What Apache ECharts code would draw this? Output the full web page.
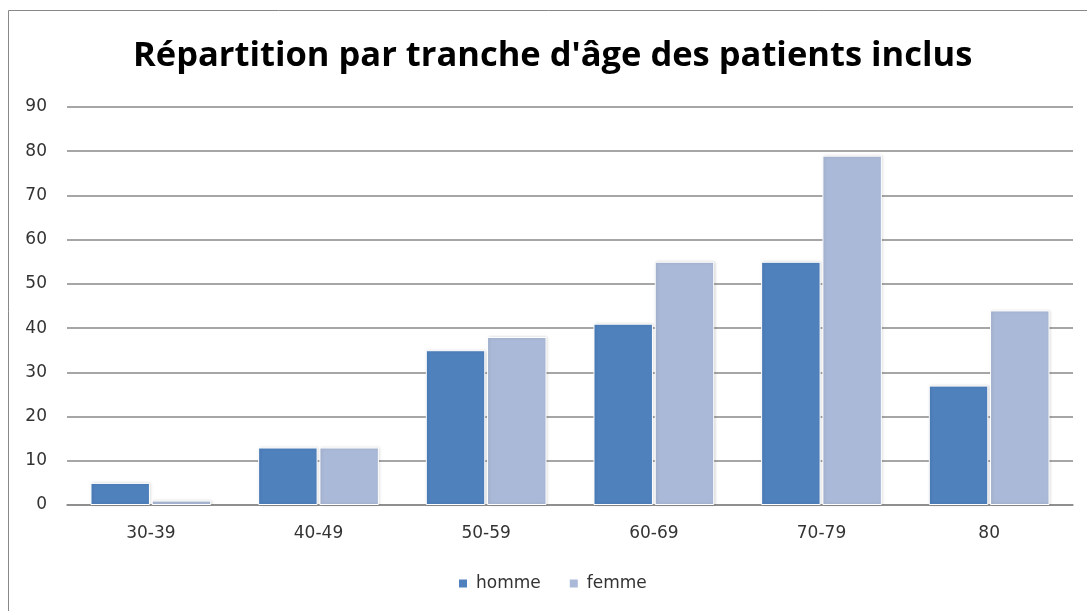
<!DOCTYPE html>
<html>
<head>
<meta charset="utf-8">
<script src="https://cdn.jsdelivr.net/npm/echarts@6/dist/echarts.min.js"></script>
<style>
    html, body { margin: 0; padding: 0; background: #fff; }
    #chart { width: 1087px; height: 611px; }
</style>
</head>
<body>
<div id="chart"></div>
<script>
// données du graphique
var categories = ['30-39', '40-49', '50-59', '60-69', '70-79', '80'];
var hommeValues = [5, 13, 35, 41, 55, 27];
var femmeValues = [1, 13, 38, 55, 79, 44];
var seriesNames = ['homme', 'femme'];

var myChart = echarts.init(document.getElementById('chart'));

var titleFont = '"Open Sans", sans-serif';
var labelFont = '"DejaVu Sans", sans-serif';

var option = {
    animation: false,
    title: {
        text: "Répartition par tranche d'âge des patients inclus",
        left: 128,
        top: 34,
        textStyle: {
            fontFamily: titleFont,
            fontWeight: 'bold',
            fontSize: 34.5,
            color: '#000'
        }
    },
    // cadre gris du graphique (bords droit et bas hors image)
    graphic: [{
        type: 'rect',
        shape: { x: 8.5, y: 10.5, width: 1200, height: 800 },
        style: { fill: 'none', stroke: '#888', lineWidth: 1 },
        silent: true
    }],
    legend: {
        data: seriesNames,
        bottom: 14,
        left: 452,
        itemWidth: 10,
        itemHeight: 10,
        itemGap: 27,
        icon: 'rect',
        textStyle: {
            fontFamily: labelFont,
            fontSize: 17,
            color: '#333',
            padding: [0, 0, 0, 3]
        }
    },
    grid: {
        left: 67,
        right: 14,
        top: 107,
        bottom: 106,
        containLabel: false
    },
    xAxis: {
        type: 'category',
        data: categories,
        axisTick: { show: false },
        axisLine: {
            lineStyle: { color: '#888', width: 1.5 }
        },
        axisLabel: {
            margin: 20,
            fontFamily: labelFont,
            fontSize: 17,
            color: '#333'
        }
    },
    yAxis: {
        type: 'value',
        min: 0,
        max: 90,
        interval: 10,
        axisLine: { show: false },
        axisTick: { show: false },
        axisLabel: {
            margin: 20,
            fontFamily: labelFont,
            fontSize: 17,
            color: '#333'
        },
        splitLine: {
            lineStyle: { color: '#888', width: 1.5 }
        }
    },
    series: [
        {
            name: seriesNames[0],
            type: 'bar',
            data: hommeValues,
            barGap: '3%',
            barCategoryGap: '28%',
            itemStyle: {
                color: '#4F81BD',
                borderColor: '#fff',
                borderWidth: 1,
                shadowBlur: 3,
                shadowColor: 'rgba(0,0,0,0.15)',
                shadowOffsetX: 1
            }
        },
        {
            name: seriesNames[1],
            type: 'bar',
            data: femmeValues,
            barGap: '3%',
            barCategoryGap: '28%',
            itemStyle: {
                color: '#AAB9D7',
                borderColor: '#fff',
                borderWidth: 1,
                shadowBlur: 3,
                shadowColor: 'rgba(0,0,0,0.15)',
                shadowOffsetX: 1
            }
        }
    ]
};

window.addEventListener("resize", function () {
    myChart.resize();
});
myChart.setOption(option);
</script>
</body>
</html>
